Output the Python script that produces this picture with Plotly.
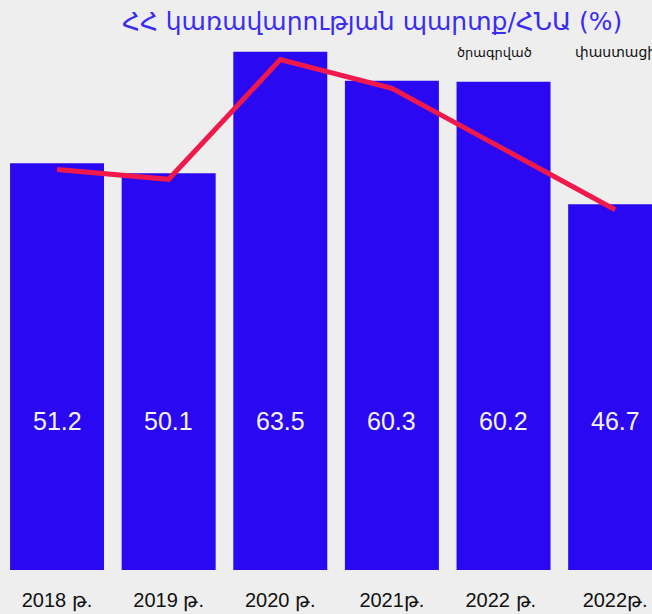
import plotly.graph_objects as go

categories = ["2018 թ.", "2019 թ.", "2020 թ.", "2021թ.", "2022 թ. ", "2022թ."]
bar_values = [51.2, 50.1, 63.5, 60.3, 60.2, 46.7]
line_values = [51.2, 50.1, 63.5, 60.3, None, 46.7]
bar_labels = ["51.2", "50.1", "63.5", "60.3", "60.2", "46.7"]
title_text = "ՀՀ կառավարության պարտք/ՀՆԱ (%)"
planned_text = "ծրագրված"
actual_text = "փաստացի"

fig = go.Figure()
fig.add_trace(go.Bar(
    x=categories, y=bar_values, marker=dict(color="#2b08f2", line=dict(width=0)),
    hoverinfo="skip", showlegend=False,
))
fig.add_trace(go.Scatter(
    x=categories, y=line_values, yaxis="y2", mode="lines", connectgaps=True,
    line=dict(color="#f0194b", width=5), hoverinfo="skip", showlegend=False,
))

for c, lab in zip(categories, bar_labels):
    fig.add_annotation(x=c, y=22.8, xref="x", yref="y", text=lab, showarrow=False,
                       font=dict(family="Liberation Sans, Arial", size=25, color="#f4f4f4"))

fig.add_annotation(
    x=372 / 652, y=1.0, xref="paper", yref="paper", yanchor="middle", yshift=-21,
    text=title_text, showarrow=False,
    font=dict(family="DejaVu Sans, Liberation Sans", size=25, color="#3a2cf0"),
)
fig.add_annotation(
    x=455 / 652, y=1.0, xref="paper", yref="paper", xanchor="left", yanchor="middle", yshift=-52,
    text=planned_text, showarrow=False,
    font=dict(family="DejaVu Sans, Liberation Sans", size=13, color="#111111"),
)
fig.add_annotation(
    x=573 / 652, y=1.0, xref="paper", yref="paper", xanchor="left", yanchor="middle", yshift=-52,
    text=actual_text, showarrow=False,
    font=dict(family="DejaVu Sans, Liberation Sans", size=14, color="#111111"),
)

fig.update_layout(
    width=652, height=614,
    margin=dict(l=0, r=0, t=0, b=44),
    paper_bgcolor="#eeeeee", plot_bgcolor="rgba(0,0,0,0)",
    bargap=0.158,
    xaxis=dict(type="category", range=[-0.511, 5.33], showgrid=False, zeroline=False,
               showline=False, ticks="", ticklabelstandoff=16,
               tickfont=dict(family="Liberation Sans, Arial", size=20, color="#111111")),
    yaxis=dict(range=[6.36, 69.21], visible=False, showgrid=False),
    yaxis2=dict(range=[6.35, 70.18], overlaying="y", visible=False, showgrid=False),
)

fig.write_html("out.html", config={"displayModeBar": False},
               post_script="document.body.style.margin='0';document.body.style.overflow='hidden';")
